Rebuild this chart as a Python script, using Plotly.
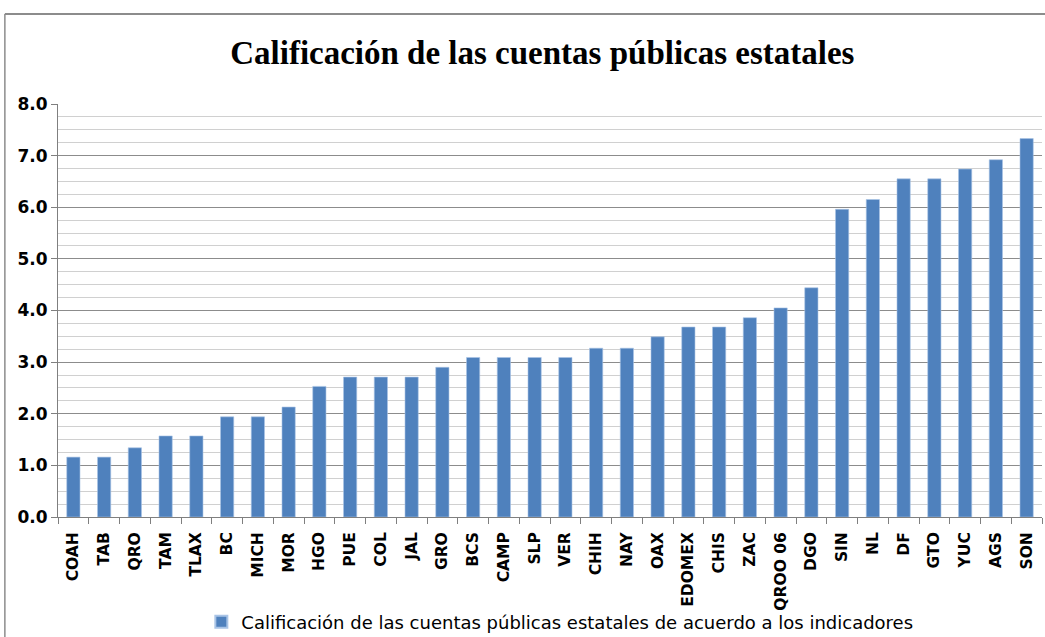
import plotly.graph_objects as go

states = ["COAH", "TAB", "QRO", "TAM", "TLAX", "BC", "MICH", "MOR", "HGO", "PUE",
          "COL", "JAL", "GRO", "BCS", "CAMP", "SLP", "VER", "CHIH", "NAY", "OAX",
          "EDOMEX", "CHIS", "ZAC", "QROO 06", "DGO", "SIN", "NL", "DF", "GTO", "YUC",
          "AGS", "SON"]
scores = [1.16, 1.16, 1.34, 1.57, 1.57, 1.94, 1.94, 2.13, 2.53, 2.71,
          2.71, 2.71, 2.90, 3.09, 3.09, 3.09, 3.09, 3.27, 3.27, 3.49,
          3.68, 3.68, 3.86, 4.05, 4.44, 5.96, 6.15, 6.55, 6.55, 6.74,
          6.92, 7.33]
series_name = "Calificación de las cuentas públicas estatales de acuerdo a los indicadores"
title_text = "Calificación de las cuentas públicas estatales"
y_ticks = [0, 1, 2, 3, 4, 5, 6, 7, 8]

fig = go.Figure()
fig.add_trace(go.Bar(
    x=states, y=scores, name=series_name,
    marker=dict(color="#4F81BD", line=dict(color="#A9C4E6", width=0.6)),
    showlegend=True,
))

fig.update_layout(
    width=1045, height=637,
    margin=dict(l=58, r=3, t=104, b=120, autoexpand=False),
    paper_bgcolor="white", plot_bgcolor="white",
    bargap=0.57,
    title=dict(text=title_text, x=0.519, xanchor="center", y=0.918, yanchor="middle",
               font=dict(family="Liberation Serif", size=33, color="black", weight="bold")),
    legend=dict(orientation="h", x=0.51, xanchor="center",
                yref="container", y=(637 - 622) / 637, yanchor="middle",
                font=dict(family="DejaVu Sans", size=18, color="black"),
                itemwidth=30, itemsizing="constant", bgcolor="rgba(0,0,0,0)"),
    font=dict(family="DejaVu Sans"),
)

fig.update_yaxes(
    range=[0, 8], tickvals=y_ticks, ticktext=[f"{v:.1f}" for v in y_ticks],
    showgrid=True, gridcolor="#8C8C8C", gridwidth=1,
    minor=dict(dtick=0.25, showgrid=True, gridcolor="#D0D0D0", gridwidth=1,
               ticks="", tick0=0),
    showline=True, linecolor="#7F7F7F", linewidth=1,
    ticks="outside", ticklen=6, tickcolor="#7F7F7F",
    tickfont=dict(family="DejaVu Sans", size=17, color="black", weight="bold"),
    zeroline=False, automargin=False,
)
fig.update_xaxes(
    type="category", tickangle=-90,
    showline=True, linecolor="#7F7F7F", linewidth=1,
    ticks="outside", ticklen=6, tickcolor="#7F7F7F", tickson="boundaries",
    ticklabelstandoff=8,
    tickfont=dict(family="DejaVu Sans", size=15.5, color="black", weight="bold"),
    showgrid=False, automargin=False,
)

# outer chart frame (top and left edges visible in reference)
fig.add_shape(type="line", xref="paper", yref="paper",
              x0=-0.054, x1=1.01, y0=(517 - 14) / 413, y1=(517 - 14) / 413,
              line=dict(color="#8C8C8C", width=2))
fig.add_shape(type="line", xref="paper", yref="paper",
              x0=-0.054, x1=-0.054, y0=(517 - 14) / 413, y1=(517 - 640) / 413,
              line=dict(color="#8C8C8C", width=1.5))

fig.write_html("out.html")
